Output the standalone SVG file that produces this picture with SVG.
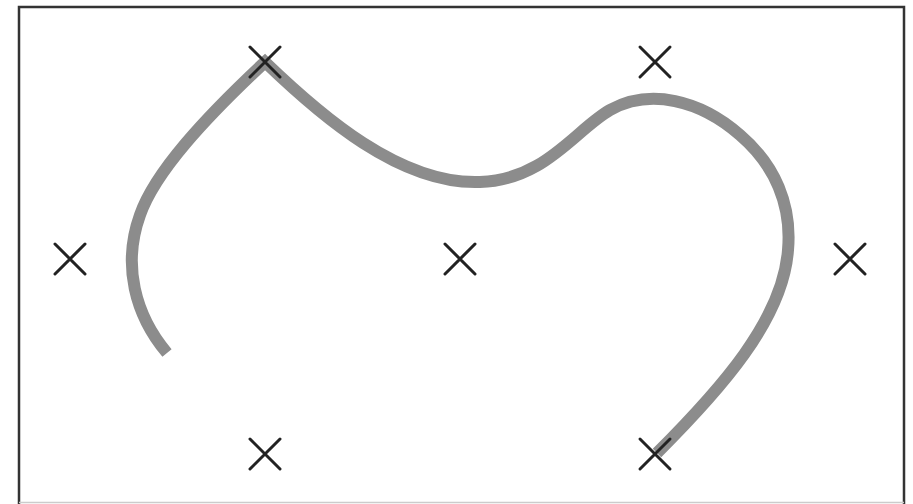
<svg xmlns="http://www.w3.org/2000/svg" width="913" height="504" viewBox="0 0 913 504">
<style>
.frame{fill:none;stroke:#333;stroke-width:2.5}
.curve{fill:none;stroke:#8c8c8c;stroke-width:12;stroke-linejoin:miter}
.mark{stroke:#222;stroke-width:3;stroke-linecap:round}
</style>
<defs>
<path id="x" class="mark" d="M-15,-15L15,15M15,-15L-15,15"/>
</defs>
<rect width="913" height="504" fill="#fff"/>
<path class="frame" d="M19,504V7H904V504"/>
<line x1="19" y1="502.5" x2="904" y2="502.5" stroke="#ccc" stroke-width="1.5"/>
<g id="connectors">
<path class="curve" d="M167,353 C135,315 122,265 140,215 C155,172 205,118 265,62 C320,115 400,185 480,182 C545,180 575,130 610,110 C650,88 700,100 740,135 C775,165 792,205 788,250 C783,320 720,390 657,453"/>
</g>
<g id="p1"><use href="#x" x="265" y="62"/></g>
<g id="p2"><use href="#x" x="655" y="62"/></g>
<g id="p3"><use href="#x" x="70" y="259"/></g>
<g id="p4"><use href="#x" x="460" y="259"/></g>
<g id="p5"><use href="#x" x="850" y="259"/></g>
<g id="p6"><use href="#x" x="265" y="454"/></g>
<g id="p7"><use href="#x" x="655" y="454"/></g>
</svg>
